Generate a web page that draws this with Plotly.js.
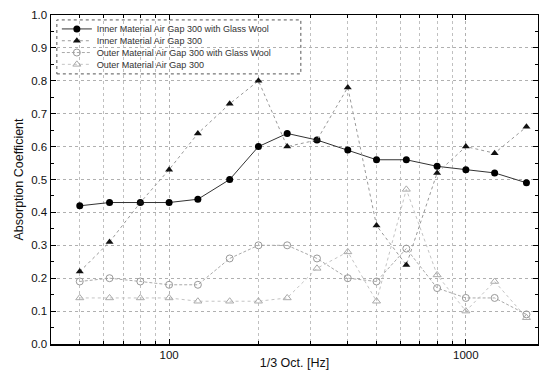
<!DOCTYPE html>
<html><head><meta charset="utf-8">
<script src="https://cdn.plot.ly/plotly-3.0.1.min.js"></script>
<style>body{margin:0;background:#fff}#chart{width:539px;height:370px}</style>
</head><body><div id="chart"></div>
<script>
const freqs = [50,63,80,100,125,160,200,250,315,400,500,630,800,1000,1250,1600];
const innerGlassWool = [0.42,0.43,0.43,0.43,0.44,0.50,0.60,0.64,0.62,0.59,0.56,0.56,0.54,0.53,0.52,0.49];
const innerAirGap = [0.22,0.31,0.43,0.53,0.64,0.73,0.80,0.60,0.62,0.78,0.36,0.24,0.52,0.60,0.58,0.66];
const outerGlassWool = [0.19,0.20,0.19,0.18,0.18,0.26,0.30,0.30,0.26,0.20,0.19,0.29,0.17,0.14,0.14,0.09];
const outerAirGap = [0.14,0.14,0.14,0.14,0.13,0.13,0.13,0.14,0.23,0.28,0.13,0.47,0.21,0.10,0.19,0.08];
const seriesNames = ["Inner Material Air Gap 300 with Glass Wool","Inner Material Air Gap 300","Outer Material Air Gap 300 with Glass Wool","Outer Material Air Gap 300"];

const traces = [
  {x:freqs,y:innerGlassWool,name:seriesNames[0],mode:'lines+markers',
   line:{color:'#333',width:1,dash:'solid'},marker:{symbol:'circle',size:7,color:'#000'}},
  {x:freqs,y:innerAirGap,name:seriesNames[1],mode:'lines+markers',
   line:{color:'#999',width:1,dash:'dot'},marker:{symbol:'triangle-up',size:7,color:'#111'}},
  {x:freqs,y:outerGlassWool,name:seriesNames[2],mode:'lines+markers',
   line:{color:'#aaa',width:1,dash:'3px,2px'},marker:{symbol:'circle-open',size:7,color:'#999',line:{width:1}}},
  {x:freqs,y:outerAirGap,name:seriesNames[3],mode:'lines+markers',
   line:{color:'#c4c4c4',width:1,dash:'dot'},marker:{symbol:'triangle-up-open',size:7,color:'#aaa',line:{width:1}}}
];

const layout = {
  width:539,height:370,
  margin:{l:51,r:1,t:15,b:26},
  paper_bgcolor:'#fff',plot_bgcolor:'#fff',
  font:{family:'Liberation Sans, Arial, sans-serif',color:'#111',size:10},
  showlegend:true,
  legend:{x:0.012,y:0.985,xanchor:'left',yanchor:'top',font:{size:9,color:'#333'},
    bgcolor:'rgba(255,255,255,0)',borderwidth:0,itemwidth:30,tracegroupgap:0},
  xaxis:{type:'log',range:[Math.log10(40),Math.log10(1750)],dtick:1,exponentformat:'none',
    showline:true,linecolor:'#000',linewidth:1.5,mirror:'ticks',ticks:'inside',ticklen:5,tickcolor:'#000',
    showgrid:true,gridcolor:'#b0b0b0',griddash:'dot',gridwidth:1,zeroline:false,
    minor:{dtick:'D1',ticks:'inside',ticklen:3,tickcolor:'#000',showgrid:true,gridcolor:'#c0c0c0',griddash:'dot'},
    title:{text:'1/3 Oct. [Hz]',font:{size:12.5},standoff:3},tickfont:{size:11.5}},
  yaxis:{range:[0,1],dtick:0.1,tickformat:'.1f',
    showline:true,linecolor:'#000',linewidth:1.5,mirror:'ticks',ticks:'inside',ticklen:5,tickcolor:'#000',
    showgrid:true,gridcolor:'#b0b0b0',griddash:'dot',gridwidth:1,zeroline:false,
    minor:{dtick:0.05,ticks:'inside',ticklen:3,tickcolor:'#000',showgrid:false},
    title:{text:'Absorption Coefficient',font:{size:12.5},standoff:5},tickfont:{size:11.5}},
  shapes:[{type:'rect',xref:'paper',yref:'paper',x0:0.012,x1:0.513,y0:0.821,y1:0.985,
    line:{color:'#555',width:1,dash:'dot'},fillcolor:'rgba(0,0,0,0)'}]
};
Plotly.newPlot('chart',traces,layout,{displayModeBar:false,staticPlot:true}).then(function(gd){
  // compress legend row spacing to match the reference
  const items = gd.querySelectorAll('.legend .traces');
  items.forEach(function(el,i){
    el.setAttribute('transform','translate(0,'+(9 + i*11.8)+')');
  });
});
</script></body></html>
